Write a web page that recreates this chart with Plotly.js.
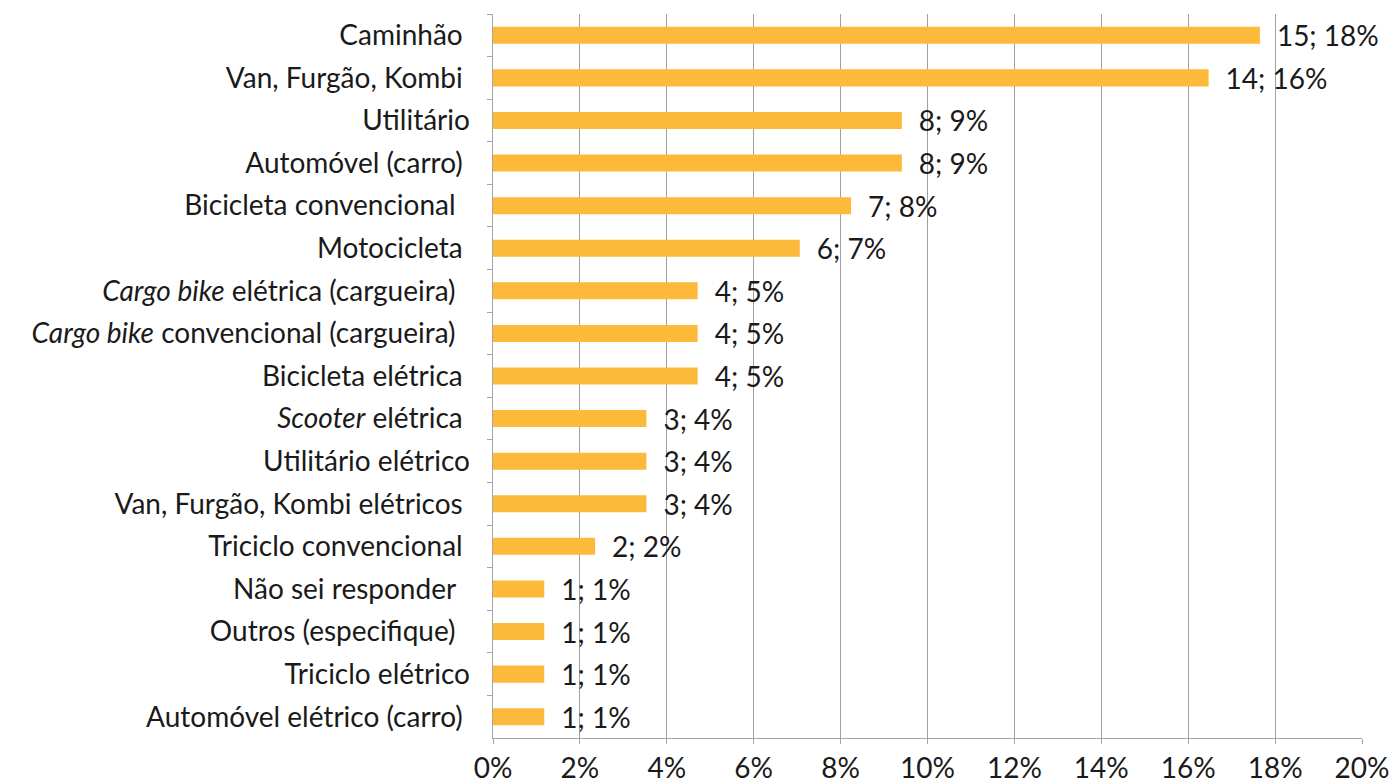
<!DOCTYPE html>
<html>
<head>
<meta charset="utf-8">
<script src="https://cdn.plot.ly/plotly-3.0.1.min.js"></script>
<style>
  html, body { margin: 0; padding: 0; background: #ffffff; }
  #chart { width: 1389px; height: 782px; }
</style>
</head>
<body>
<div id="chart"></div>
<script>
// Categories (top to bottom), as shown in the reference
const categories = [
  "Caminhão\u00a0",
  "Van, Furgão, Kombi\u00a0",
  "Utilitário",
  "Automóvel (carro)\u00a0",
  "Bicicleta convencional\u00a0\u00a0",
  "Motocicleta\u00a0",
  "<i>Cargo bike</i> elétrica (cargueira)\u00a0\u00a0",
  "<i>Cargo bike</i> convencional (cargueira)\u00a0\u00a0",
  "Bicicleta elétrica\u00a0",
  "<i>Scooter</i> elétrica\u00a0",
  "Utilitário elétrico",
  "Van, Furgão, Kombi elétricos\u00a0",
  "Triciclo convencional\u00a0",
  "Não sei responder\u00a0\u00a0",
  "Outros (especifique)\u00a0\u00a0",
  "Triciclo elétrico",
  "Automóvel elétrico (carro)\u00a0"
];
// Number of responses
const counts = [15, 14, 8, 8, 7, 6, 4, 4, 4, 3, 3, 3, 2, 1, 1, 1, 1];
// Share of responses (x-axis values)
const shares = [0.1765, 0.1647, 0.0941, 0.0941, 0.0824, 0.0706, 0.0471, 0.0471, 0.0471,
                0.0353, 0.0353, 0.0353, 0.0235, 0.0118, 0.0118, 0.0118, 0.0118];
// X axis ticks
const xTickVals = [0, 0.02, 0.04, 0.06, 0.08, 0.10, 0.12, 0.14, 0.16, 0.18, 0.20];
const xTickText = ["0%", "2%", "4%", "6%", "8%", "10%", "12%", "14%", "16%", "18%", "20%"];

const labels = counts.map((c, i) => "\u2002" + c + "; " + Math.round(shares[i] * 100) + "%");

const FONT = "Lato, 'Open Sans', sans-serif";
const FS = 28;

const trace = {
  type: "bar",
  orientation: "h",
  y: categories,
  x: shares,
  text: labels,
  textposition: "outside",
  constraintext: "none",
  cliponaxis: false,
  textfont: { family: FONT, size: FS, color: "#1a1a1a" },
  marker: { color: "#FDB93A" },
  hoverinfo: "skip"
};

const layout = {
  width: 1389,
  height: 782,
  margin: { l: 493, r: 27, t: 14, b: 44 },
  paper_bgcolor: "#ffffff",
  plot_bgcolor: "#ffffff",
  showlegend: false,
  bargap: 0.6,
  font: { family: FONT, size: FS, color: "#1a1a1a" },
  xaxis: {
    range: [0, 0.2],
    tickvals: xTickVals,
    ticktext: xTickText,
    showgrid: true,
    gridcolor: "#a0a0a0",
    gridwidth: 1,
    zeroline: false,
    showline: true,
    linecolor: "#a6a6a6",
    linewidth: 1,
    ticks: "outside",
    ticklen: 5,
    tickcolor: "#a6a6a6",
    ticklabelstandoff: 0,
    ticklabeloverflow: "allow",
    tickfont: { family: FONT, size: FS, color: "#1a1a1a" },
    fixedrange: true
  },
  yaxis: {
    type: "category",
    autorange: "reversed",
    showgrid: false,
    zeroline: false,
    showline: true,
    linecolor: "#a6a6a6",
    linewidth: 1.5,
    ticks: "outside",
    tickson: "boundaries",
    ticklen: 5,
    tickcolor: "#a6a6a6",
    ticklabelstandoff: 16,
    tickfont: { family: FONT, size: FS, color: "#1a1a1a" },
    fixedrange: true
  }
};

Plotly.newPlot("chart", [trace], layout, { displayModeBar: false, staticPlot: true });
</script>
</body>
</html>
